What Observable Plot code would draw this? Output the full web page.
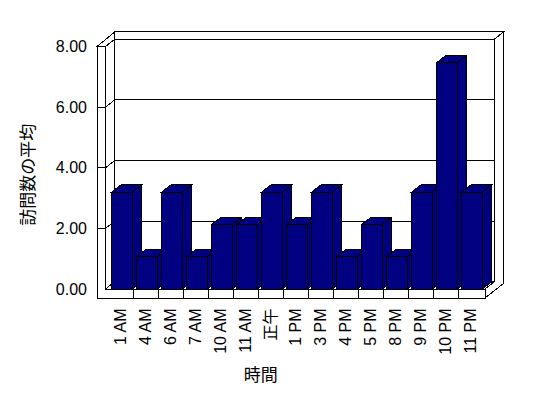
<!DOCTYPE html>
<html>
<head>
<meta charset="utf-8">
<script src="https://cdn.jsdelivr.net/npm/d3@7"></script>
<script src="https://cdn.jsdelivr.net/npm/@observablehq/plot@0.6"></script>
<style>
  html, body { margin: 0; padding: 0; background: #fff; }
</style>
</head>
<body>
<div id="chart"></div>
<script>
// ---- data ----
const hours = ["1 AM","4 AM","6 AM","7 AM","10 AM","11 AM","正午","1 PM","3 PM","4 PM","5 PM","8 PM","9 PM","10 PM","11 PM"];
const visits = [3.2, 1.07, 3.2, 1.07, 2.13, 2.13, 3.2, 2.13, 3.2, 1.07, 2.13, 1.07, 3.2, 7.47, 3.2];
const yTicks = [0, 2, 4, 6, 8];
const yTitle = "訪問数の平均";
const xTitle = "時間";

const rows = hours.map((h, i) => ({hour: h, value: visits[i]}));

// ---- 3D look ----
const DX = 9.3, DY = -7.3;     // depth offset
const WALL = 8.5;              // left wall thickness
const FLOOR = 9;               // floor thickness
const BAR_INSET = 3.8, BAR_W = 20.7;
const NAVY = "#000080";

function scene(index, scales, values, dims) {
  const x = scales.x, y = scales.y;
  const X0 = dims.marginLeft, X1 = dims.width - dims.marginRight;
  const Y0 = y(0), YT = y(yTicks[yTicks.length - 1]);
  const g = d3.create("svg:g")
    .attr("stroke", "black").attr("stroke-width", 1)
    .attr("stroke-linejoin", "miter")
    .attr("shape-rendering", "crispEdges");
  const poly = (pts, fill) => g.append("polygon")
    .attr("points", pts.map(p => p.join(",")).join(" "))
    .attr("fill", fill);
  const line = (pts) => g.append("polyline")
    .attr("points", pts.map(p => p.join(",")).join(" "))
    .attr("fill", "none");

  // back wall
  poly([[X0+DX, YT+DY],[X1+DX, YT+DY],[X1+DX, Y0+DY],[X0+DX, Y0+DY]], "white");
  for (const v of yTicks.slice(1, -1)) line([[X0+DX, y(v)+DY],[X1+DX, y(v)+DY]]);
  // back wall top face
  poly([[X0+DX, YT+DY],[X1+DX, YT+DY],[X1+2*DX, YT+2*DY],[X0+DX, YT+2*DY]], "white");
  // right side of wall + floor
  poly([[X1, Y0],[X1, Y0+FLOOR],[X1+2*DX, Y0+FLOOR+2*DY],[X1+2*DX, YT+2*DY],[X1+DX, YT+DY],[X1+DX, Y0+DY]], "white");
  line([[X1, Y0],[X1+DX, Y0+DY]]);
  // left wall + floor front faces
  poly([[X0-WALL, YT],[X0-WALL, Y0+FLOOR],[X1, Y0+FLOOR],[X1, Y0],[X0, Y0],[X0, YT]], "white");
  poly([[X0-WALL, YT],[X0, YT],[X0+DX, YT+DY],[X0+DX, YT+2*DY]], "white");
  for (const v of yTicks.slice(1, -1)) line([[X0-WALL, y(v)],[X0, y(v)],[X0+DX, y(v)+DY]]);
  line([[X0, Y0],[X0+DX, Y0+DY]]);
  // floor dividers
  for (const h of hours.slice(1)) line([[x(h), Y0],[x(h), Y0+FLOOR]]);
  // bars
  for (const r of rows) {
    const xl = x(r.hour) + BAR_INSET, xr = xl + BAR_W, yt = y(r.value);
    poly([[xl, yt],[xr, yt],[xr, Y0],[xl, Y0]], NAVY);
    poly([[xr, yt],[xr+DX, yt+DY],[xr+DX, Y0+DY],[xr, Y0]], NAVY);
    poly([[xl, yt],[xr, yt],[xr+DX, yt+DY],[xl+DX, yt+DY]], NAVY);
  }
  return g.node();
}

const chart = Plot.plot({
  width: 548,
  height: 398,
  marginLeft: 105.5,
  marginRight: 63,
  marginTop: 46.5,
  marginBottom: 109,
  style: {
    fontFamily: "'Liberation Sans', 'Noto Sans CJK JP', sans-serif",
    fontSize: "16px",
    background: "white",
    color: "black"
  },
  x: {type: "band", domain: hours, padding: 0},
  y: {domain: [0, 8]},
  marks: [
    scene,
    Plot.axisY({ticks: yTicks, tickFormat: d3.format(".2f"), tickSize: 0, tickPadding: 19, label: null, fontSize: 16}),
    Plot.axisX({tickRotate: -90, tickSize: 0, tickPadding: 19, label: null, fontSize: 16}),
    Plot.text([yTitle], {frameAnchor: "left", textAnchor: "middle", lineAnchor: "middle", rotate: -90,
      dx: -77.5, dy: 6.5, fontSize: 17, fontFamily: "'Noto Sans CJK JP', sans-serif"}),
    Plot.text([xTitle], {frameAnchor: "bottom", textAnchor: "middle", lineAnchor: "middle",
      dx: -35, dy: 86, fontSize: 17, fontFamily: "'Noto Sans CJK JP', sans-serif"})
  ]
});
document.getElementById("chart").appendChild(chart);
</script>
</body>
</html>
